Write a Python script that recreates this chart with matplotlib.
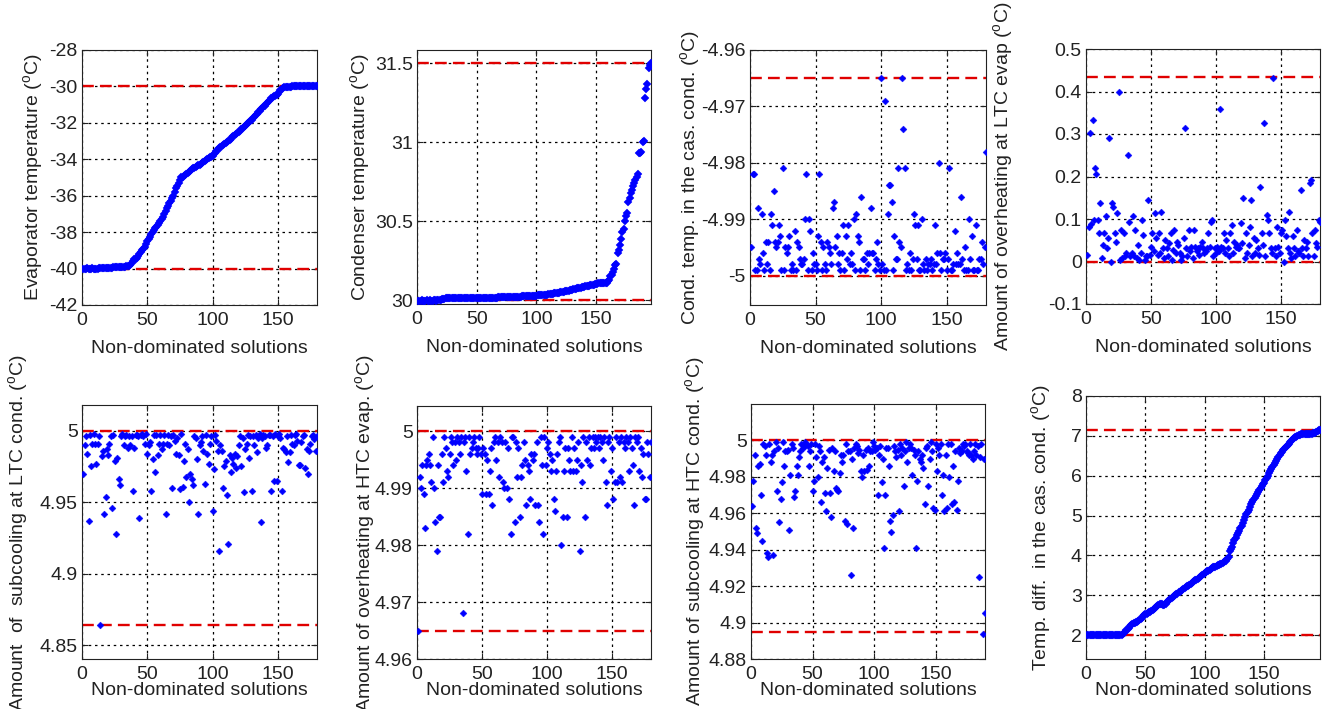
import numpy as np
import matplotlib
matplotlib.use('Agg')
import matplotlib.pyplot as plt

plt.rcParams['font.family'] = ['Liberation Sans', 'DejaVu Sans']
plt.rcParams['font.size'] = 14
plt.rcParams['mathtext.fontset'] = 'custom'
plt.rcParams['mathtext.rm'] = 'Liberation Sans'
plt.rcParams['axes.unicode_minus'] = False

# ---- data (one value per non-dominated solution) ----
evap_temp = [
    -40.0, -40.0, -40.0, -39.99, -40.0, -40.0, -40.0, -39.99, -40.0, -40.0,
    -40.0, -40.0, -39.99, -39.99, -39.98, -39.99, -39.98, -39.98, -39.97, -39.97,
    -39.97, -39.96, -39.95, -39.94, -39.93, -39.93, -39.92, -39.92, -39.91, -39.91,
    -39.9, -39.9, -39.89, -39.88, -39.87, -39.86, -39.82, -39.72, -39.6, -39.5,
    -39.45, -39.4, -39.3, -39.2, -39.1, -39.0, -38.9, -38.8, -38.65, -38.5,
    -38.38, -38.25, -38.1, -38.0, -37.9, -37.8, -37.7, -37.6, -37.5, -37.4,
    -37.28, -37.15, -37.0, -36.85, -36.7, -36.55, -36.42, -36.3, -36.15, -36.0,
    -35.8, -35.6, -35.45, -35.3, -35.15, -35.0, -34.95, -34.9, -34.85, -34.8,
    -34.74, -34.68, -34.62, -34.56, -34.5, -34.46, -34.42, -34.38, -34.34, -34.3,
    -34.25, -34.2, -34.15, -34.1, -34.05, -34.0, -33.95, -33.9, -33.85, -33.8,
    -33.72, -33.64, -33.56, -33.48, -33.4, -33.34, -33.28, -33.22, -33.16, -33.1,
    -33.04, -32.98, -32.92, -32.86, -32.8, -32.74, -32.68, -32.62, -32.56, -32.5,
    -32.43, -32.36, -32.29, -32.22, -32.15, -32.09, -32.03, -31.97, -31.91, -31.85,
    -31.76, -31.67, -31.58, -31.49, -31.4, -31.33, -31.26, -31.19, -31.12, -31.05,
    -30.97, -30.89, -30.81, -30.73, -30.65, -30.6, -30.55, -30.5, -30.45, -30.4,
    -30.3, -30.2, -30.15, -30.08, -30.05, -30.03, -30.02, -30.02, -30.01, -30.01,
    -30.0, -30.0, -30.0, -29.99, -30.0, -30.0, -30.0, -29.99, -29.99, -30.0,
    -30.0, -30.0, -29.99, -29.99, -30.0, -30.0, -30.0, -30.0, -30.0, -30.0]

cond_temp = [
    29.996, 29.997, 29.997, 29.998, 29.997, 29.996, 29.997, 29.998, 29.997, 29.997,
    29.998, 29.997, 29.997, 29.998, 29.998, 29.997, 29.998, 29.998, 29.999, 29.999,
    30.008, 30.009, 30.009, 30.01, 30.01, 30.01, 30.01, 30.011, 30.01, 30.011,
    30.011, 30.01, 30.011, 30.011, 30.011, 30.012, 30.011, 30.012, 30.011, 30.012,
    30.012, 30.012, 30.012, 30.012, 30.012, 30.013, 30.012, 30.013, 30.013, 30.013,
    30.013, 30.013, 30.013, 30.013, 30.014, 30.015, 30.015, 30.015, 30.015, 30.015,
    30.015, 30.016, 30.016, 30.016, 30.016, 30.016, 30.016, 30.017, 30.017, 30.017,
    30.017, 30.017, 30.018, 30.018, 30.018, 30.018, 30.018, 30.018, 30.019, 30.019,
    30.019, 30.019, 30.02, 30.02, 30.021, 30.022, 30.022, 30.023, 30.023, 30.024,
    30.024, 30.025, 30.025, 30.026, 30.026, 30.026, 30.027, 30.027, 30.028, 30.028,
    30.03, 30.031, 30.031, 30.032, 30.033, 30.033, 30.034, 30.035, 30.035, 30.036,
    30.038, 30.039, 30.04, 30.041, 30.042, 30.043, 30.044, 30.045, 30.046, 30.048,
    30.05, 30.052, 30.053, 30.055, 30.056, 30.058, 30.06, 30.061, 30.063, 30.065,
    30.068, 30.07, 30.072, 30.074, 30.076, 30.078, 30.079, 30.081, 30.083, 30.085,
    30.088, 30.089, 30.091, 30.092, 30.094, 30.095, 30.096, 30.098, 30.099, 30.1,
    30.104, 30.105, 30.106, 30.106, 30.107, 30.107, 30.108, 30.109, 30.11, 30.12,
    30.13, 30.15, 30.16, 30.18, 30.2, 30.22, 30.23, 30.3, 30.32, 30.35,
    30.39, 30.43, 30.45, 30.5, 30.53, 30.55, 30.62, 30.65, 30.68, 30.7,
    30.72, 30.74, 30.76, 30.78, 30.8, 30.93, 30.93, 30.94, 31.0, 31.01,
    31.28, 31.34, 31.37, 31.47, 31.49, 31.5]

cas_cond_temp = [
    -4.995, -4.982, -4.982, -4.999, -4.999, -4.988, -4.997, -4.998, -4.989, -4.996,
    -4.999, -4.994, -4.998, -4.994, -4.999, -4.989, -4.991, -4.985, -4.994, -4.995,
    -4.994, -4.991, -4.993, -4.999, -4.981, -4.999, -4.995, -4.996, -4.995, -4.993,
    -4.999, -4.998, -4.999, -4.992, -4.999, -4.994, -4.995, -4.997, -4.998, -4.998,
    -4.997, -4.990, -4.982, -4.999, -4.990, -4.992, -4.999, -4.996, -4.998, -4.998,
    -4.999, -4.993, -4.982, -4.994, -4.999, -4.995, -4.998, -4.999, -4.994, -4.995,
    -4.996, -4.998, -4.988, -4.987, -4.995, -4.993, -4.998, -4.996, -4.999, -4.996,
    -4.991, -4.999, -4.993, -4.997, -4.991, -4.998, -4.996, -4.998, -4.990, -4.999,
    -4.989, -4.993, -4.994, -4.999, -4.986, -4.997, -4.997, -4.999, -4.996, -4.998,
    -4.996, -4.988, -4.996, -4.996, -4.999, -4.997, -4.994, -4.998, -4.999, -4.965,
    -4.998, -4.999, -4.969, -4.999, -4.989, -4.984, -4.984, -4.987, -4.999, -4.993,
    -4.997, -4.997, -4.981, -4.994, -4.995, -4.965, -4.974, -4.981, -4.999, -4.998,
    -4.999, -4.996, -4.999, -4.997, -4.989, -4.991, -4.997, -4.991, -4.999, -4.999,
    -4.990, -4.998, -4.999, -4.997, -4.999, -4.998, -4.998, -4.997, -4.999, -4.998,
    -4.991, -4.998, -4.996, -4.980, -4.996, -4.999, -4.997, -4.997, -4.996, -4.999,
    -4.997, -4.981, -4.999, -4.999, -4.998, -4.992, -4.998, -4.996, -4.998, -4.998,
    -4.986, -4.997, -4.999, -4.995, -4.999, -4.999, -4.990, -4.997, -4.993, -4.999,
    -4.999, -4.991, -4.999, -4.999, -4.997, -4.997, -4.994, -4.998, -4.995, -4.978]

ltc_evap_oh = [
    0.016, 0.082, 0.303, 0.089, 0.334, 0.098, 0.219, 0.207, 0.098, 0.067,
    0.137, 0.008, 0.039, 0.067, 0.106, 0.031, 0.055, 0.290, 0.000, 0.137,
    0.129, 0.067, 0.047, 0.114, 0.400, 0.004, 0.074, 0.008, 0.067, 0.012,
    0.020, 0.250, 0.094, 0.012, 0.020, 0.106, 0.012, 0.074, 0.008, 0.039,
    0.004, 0.020, 0.098, 0.063, 0.004, 0.012, 0.012, 0.145, 0.016, 0.035,
    0.067, 0.024, 0.114, 0.055, 0.016, 0.067, 0.020, 0.117, 0.031, 0.008,
    0.051, 0.031, 0.012, 0.043, 0.067, 0.004, 0.027, 0.074, 0.020, 0.047,
    0.039, 0.020, 0.004, 0.012, 0.055, 0.315, 0.031, 0.012, 0.074, 0.024,
    0.035, 0.008, 0.074, 0.035, 0.024, 0.031, 0.016, 0.035, 0.047, 0.031,
    0.020, 0.024, 0.031, 0.067, 0.035, 0.094, 0.098, 0.012, 0.031, 0.020,
    0.035, 0.024, 0.360, 0.035, 0.031, 0.067, 0.020, 0.051, 0.031, 0.012,
    0.067, 0.086, 0.020, 0.047, 0.035, 0.039, 0.031, 0.031, 0.090, 0.043,
    0.149, 0.008, 0.067, 0.020, 0.039, 0.082, 0.145, 0.012, 0.055, 0.020,
    0.051, 0.031, 0.016, 0.176, 0.067, 0.040, 0.325, 0.012, 0.110, 0.098,
    0.067, 0.031, 0.020, 0.431, 0.031, 0.012, 0.082, 0.035, 0.020, 0.067,
    0.074, 0.000, 0.098, 0.059, 0.031, 0.117, 0.020, 0.008, 0.059, 0.031,
    0.012, 0.074, 0.024, 0.020, 0.168, 0.031, 0.012, 0.051, 0.031, 0.047,
    0.012, 0.184, 0.192, 0.067, 0.012, 0.074, 0.043, 0.035, 0.098, 0.094]

ltc_cond_sc = [
    4.970, 4.990, 4.996, 4.984, 4.937, 4.997, 4.975, 4.991, 4.998, 4.991,
    4.977, 4.991, 4.996, 4.864, 4.982, 4.986, 4.942, 4.954, 4.987, 4.983,
    4.991, 4.996, 4.946, 4.997, 4.979, 4.928, 4.981, 4.966, 4.962, 4.996,
    4.998, 4.990, 4.996, 4.997, 4.988, 4.996, 4.990, 4.996, 4.958, 4.988,
    4.997, 4.997, 4.996, 4.939, 4.997, 4.998, 4.996, 4.991, 4.998, 4.984,
    4.990, 4.992, 4.958, 4.980, 4.997, 4.971, 4.997, 4.983, 4.991, 4.997,
    4.987, 4.991, 4.997, 4.942, 4.991, 4.997, 4.990, 4.996, 4.960, 4.997,
    4.993, 4.984, 4.995, 4.983, 4.959, 4.998, 4.961, 4.979, 4.991, 4.968,
    4.987, 4.950, 4.970, 4.966, 4.962, 4.996, 4.995, 4.980, 4.942, 4.990,
    4.992, 4.996, 4.986, 4.963, 4.997, 4.984, 4.977, 4.991, 4.996, 4.944,
    4.973, 4.997, 4.993, 4.986, 4.916, 4.990, 4.986, 4.960, 4.975, 4.979,
    4.955, 4.921, 4.983, 4.971, 4.981, 4.977, 4.984, 4.974, 4.982, 4.990,
    4.996, 4.975, 4.995, 4.957, 4.987, 4.991, 4.997, 4.981, 4.996, 4.958,
    4.996, 4.990, 4.997, 4.985, 4.995, 4.998, 4.936, 4.995, 4.997, 4.996,
    4.988, 4.990, 4.997, 4.997, 4.958, 4.996, 4.965, 4.998, 4.965, 4.996,
    4.998, 4.995, 4.958, 4.988, 4.987, 4.985, 4.996, 4.978, 4.985, 4.997,
    4.991, 4.990, 4.997, 4.998, 4.993, 4.976, 4.976, 4.992, 4.996, 4.997,
    4.974, 4.987, 4.970, 4.986, 4.991, 4.996, 4.997, 4.994, 4.986, 4.996]

htc_evap_oh = [
    4.965, 4.992, 4.990, 4.994, 4.989, 4.983, 4.994, 4.995, 4.996, 4.994,
    4.991, 4.999, 4.990, 4.984, 4.979, 4.994, 4.985, 4.985, 4.996, 4.991,
    4.999, 4.997, 4.993, 4.992, 4.996, 4.999, 4.998, 4.994, 4.998, 4.995,
    4.999, 4.998, 4.996, 4.999, 4.968, 4.998, 4.999, 4.993, 4.982, 4.999,
    4.996, 4.997, 4.998, 4.999, 4.997, 4.996, 4.997, 4.999, 4.996, 4.989,
    4.997, 4.996, 4.989, 4.995, 4.989, 4.993, 4.997, 4.987, 4.998, 4.999,
    4.995, 4.998, 4.992, 4.999, 4.998, 4.991, 4.990, 4.998, 4.990, 4.997,
    4.988, 4.982, 4.999, 4.999, 4.984, 4.998, 4.992, 4.997, 4.985, 4.992,
    4.994, 4.998, 4.995, 4.987, 4.994, 4.993, 4.988, 4.996, 4.995, 4.996,
    4.987, 4.998, 4.987, 4.984, 4.999, 4.994, 4.982, 4.999, 4.994, 4.997,
    4.998, 4.996, 4.993, 4.995, 4.988, 4.986, 4.993, 4.996, 4.998, 4.999,
    4.980, 4.985, 4.993, 4.997, 4.985, 4.997, 4.995, 4.993, 4.999, 4.993,
    4.997, 4.993, 4.995, 4.998, 4.979, 4.994, 4.991, 4.999, 4.985, 4.998,
    4.995, 4.999, 4.994, 4.997, 4.999, 4.997, 4.999, 4.998, 4.999, 4.997,
    4.999, 4.998, 4.995, 4.999, 4.991, 4.987, 4.998, 4.999, 4.993, 4.997,
    4.988, 4.991, 4.999, 4.991, 4.998, 4.992, 4.999, 4.991, 4.998, 4.997,
    4.999, 4.998, 4.993, 4.999, 4.997, 4.994, 4.987, 4.999, 4.998, 4.999,
    4.993, 4.997, 4.992, 4.996, 4.988, 4.988, 4.998, 4.996, 4.992, 4.998]

htc_cond_sc = [
    4.964, 4.978, 4.992, 4.952, 4.949, 4.986, 4.987, 4.970, 4.945, 4.998, 4.997,
    4.992, 4.938, 4.936, 4.998, 4.988, 4.992, 4.937, 4.994, 4.999, 4.972, 4.996,
    4.955, 4.968, 4.977, 4.999, 4.986, 4.994, 4.994, 4.995, 4.951, 4.981, 4.998,
    4.996, 4.969, 4.972, 4.986, 4.981, 4.991, 4.994, 4.998, 4.996, 4.997, 4.999,
    4.998, 4.997, 4.986, 4.994, 4.998, 4.972, 4.978, 4.998, 4.991, 4.980, 4.997,
    4.994, 4.966, 4.988, 4.991, 4.971, 4.961, 4.985, 4.995, 4.971, 4.958, 4.996,
    4.983, 4.994, 4.974, 4.973, 4.972, 4.982, 4.992, 4.988, 4.992, 4.956, 4.998,
    4.954, 4.994, 4.994, 4.926, 4.990, 4.952, 4.996, 4.998, 4.997, 4.993, 4.995,
    4.983, 4.980, 4.992, 4.983, 4.995, 4.984, 4.996, 4.986, 4.994, 4.994, 4.999,
    4.997, 4.995, 4.996, 4.970, 4.992, 4.997, 4.977, 4.990, 4.941, 4.970, 4.996,
    4.996, 4.986, 4.956, 4.950, 4.959, 4.997, 4.994, 4.991, 4.995, 4.961, 4.998,
    4.992, 4.996, 4.975, 4.994, 4.999, 4.988, 4.996, 4.998, 4.996, 4.981, 4.995,
    4.992, 4.941, 4.978, 4.994, 4.990, 4.988, 4.992, 4.985, 4.965, 4.996, 4.997,
    4.975, 4.990, 4.999, 4.994, 4.963, 4.962, 4.998, 4.983, 4.996, 4.992, 4.998,
    4.970, 4.981, 4.961, 4.992, 4.963, 4.998, 4.980, 4.998, 4.965, 4.986,
    4.966, 4.994, 4.962, 4.978, 4.996, 4.993, 4.994, 4.998, 4.997, 4.998,
    4.994, 4.993, 4.992, 4.998, 4.992, 4.990,
    4.994, 4.998, 4.992, 4.997, 4.925, 4.991, 4.998, 4.894, 4.990, 4.905]

cas_temp_diff = [
    2.0, 2.0, 1.99, 2.0, 2.0, 2.0, 1.99, 2.0, 2.0, 2.0,
    2.0, 2.0, 1.99, 2.0, 2.0, 2.0, 2.0, 2.0, 2.0, 2.0,
    2.0, 2.0, 2.0, 2.01, 2.01, 2.01, 2.01, 2.01, 2.01, 2.01,
    2.02, 2.04, 2.08, 2.12, 2.16, 2.19, 2.22, 2.25, 2.28, 2.3,
    2.31, 2.32, 2.34, 2.36, 2.39, 2.41, 2.44, 2.47, 2.5, 2.52,
    2.54, 2.55, 2.57, 2.59, 2.6, 2.63, 2.65, 2.68, 2.7, 2.73,
    2.75, 2.77, 2.78, 2.77, 2.76, 2.76, 2.79, 2.82, 2.85, 2.88,
    2.91, 2.93, 2.96, 2.98, 3.0, 3.02, 3.04, 3.07, 3.09, 3.11,
    3.13, 3.15, 3.18, 3.2, 3.22, 3.24, 3.26, 3.28, 3.31, 3.33,
    3.35, 3.37, 3.39, 3.41, 3.43, 3.46, 3.48, 3.51, 3.53, 3.56,
    3.58, 3.6, 3.62, 3.64, 3.67, 3.68, 3.7, 3.71, 3.72, 3.74,
    3.75, 3.76, 3.78, 3.79, 3.81, 3.83, 3.85, 3.87, 3.91, 3.97,
    4.1, 4.16, 4.22, 4.3, 4.38, 4.44, 4.5, 4.56, 4.62, 4.68,
    4.75, 4.82, 4.89, 4.96, 5.03, 5.09, 5.15, 5.21, 5.28, 5.34,
    5.39, 5.44, 5.5, 5.55, 5.6, 5.64, 5.69, 5.73, 5.78, 5.82,
    5.88, 5.94, 6.0, 6.06, 6.12, 6.17, 6.22, 6.28, 6.33, 6.38,
    6.42, 6.47, 6.51, 6.56, 6.6, 6.64, 6.67, 6.71, 6.74, 6.77,
    6.8, 6.84, 6.87, 6.91, 6.94, 6.96, 6.98, 7.0, 7.02, 7.03,
    7.04, 7.04, 7.05, 7.05, 7.05, 7.05, 7.05, 7.05, 7.05, 7.05,
    7.06, 7.07, 7.08, 7.1, 7.12, 7.14, 7.15]

# bounds (red dashed lines)
evap_bounds = [-30, -40]
cond_bounds = [30, 31.5]
cas_cond_bounds = [-4.965, -5.0]
ltc_evap_bounds = [0.433, 0.0]
ltc_cond_bounds = [5.0, 4.864]
htc_evap_bounds = [5.0, 4.965]
htc_cond_bounds = [5.0, 4.895]
diff_bounds = [7.15, 2.0]

xticks = [0, 50, 100, 150]

panels = [
    # values, bounds, ylabel, xmax, ylim, yticks, ytick labels,
    # rect in px (left, top, width, height), ylabel centre x in px, marker size, xlabel pad
    (evap_temp, evap_bounds, r'Evaporator temperature ($^{\mathrm{o}}$C)', 180, (-42, -28),
     [-42, -40, -38, -36, -34, -32, -30, -28], ['-42', '-40', '-38', '-36', '-34', '-32', '-30', '-28'],
     (82, 50, 235, 255), 30, 4.2, 8),
    (cond_temp, cond_bounds, r'Condenser temperature ($^{\mathrm{o}}$C)', 196, (29.975, 31.585),
     [30, 30.5, 31, 31.5], ['30', '30.5', '31', '31.5'],
     (417, 50, 234, 254), 357, 3.8, 8),
    (cas_cond_temp, cas_cond_bounds, r'Cond. temp. in the cas. cond. ($^{\mathrm{o}}$C)', 180, (-5.0052, -4.96),
     [-5, -4.99, -4.98, -4.97, -4.96], ['-5', '-4.99', '-4.98', '-4.97', '-4.96'],
     (750, 50, 236, 255), 687, 3.5, 8),
    (ltc_evap_oh, ltc_evap_bounds, r'Amount of overheating at LTC evap ($^{\mathrm{o}}$C)', 180, (-0.1, 0.5),
     [-0.1, 0, 0.1, 0.2, 0.3, 0.4, 0.5], ['-0.1', '0', '0.1', '0.2', '0.3', '0.4', '0.5'],
     (1086, 49, 234, 255), 1000, 3.5, 8),
    (ltc_cond_sc, ltc_cond_bounds, r'Amount  of  subcooling at LTC cond. ($^{\mathrm{o}}$C)', 180, (4.8404, 5.018),
     [4.85, 4.9, 4.95, 5], ['4.85', '4.9', '4.95', '5'],
     (82, 405, 235, 254), 15, 3.5, -1),
    (htc_evap_oh, htc_evap_bounds, r'Amount of overheating at HTC evap. ($^{\mathrm{o}}$C)', 180, (4.96, 5.0044),
     [4.96, 4.97, 4.98, 4.99, 5], ['4.96', '4.97', '4.98', '4.99', '5'],
     (417, 406, 234, 253), 362, 3.5, -1),
    (htc_cond_sc, htc_cond_bounds, r'Amount of subcooling at HTC cond. ($^{\mathrm{o}}$C)', 190, (4.88, 5.02),
     [4.88, 4.9, 4.92, 4.94, 4.96, 4.98, 5], ['4.88', '4.9', '4.92', '4.94', '4.96', '4.98', '5'],
     (751, 404, 234, 255), 692, 3.5, -1),
    (cas_temp_diff, diff_bounds, r'Temp. diff.  in the cas. cond. ($^{\mathrm{o}}$C)', 197, (1.4, 8),
     [2, 3, 4, 5, 6, 7, 8], ['2', '3', '4', '5', '6', '7', '8'],
     (1086, 396, 234, 263), 1038, 4.2, -1),
]

W, H = 1325, 709
fig = plt.figure(figsize=(W / 100, H / 100), dpi=100)

for vals, bounds, ylab, xmax, ylim, yt, ytl, rect, lab_x, ms, xpad in panels:
    l, t, w, h = rect
    ax = fig.add_axes([l / W, 1 - (t + h) / H, w / W, h / H])
    x = np.arange(1, len(vals) + 1)
    for b in bounds:
        ax.axhline(b, color='#e00000', lw=1.7, ls=(0, (5, 2.6)), zorder=2)
    ax.plot(x, vals, ls='none', marker='D', ms=ms, mfc='#0000ff', mec='#0000ff',
            mew=0.3, zorder=3)
    ax.set_xlim(0, xmax)
    ax.set_ylim(*ylim)
    ax.set_xticks(xticks)
    ax.set_xticklabels([str(v) for v in xticks])
    ax.set_yticks(yt)
    ax.set_yticklabels(ytl)
    ax.grid(True, color='black', ls=(0, (2, 3)), lw=0.9)
    ax.set_axisbelow(True)
    ax.tick_params(direction='in', length=4, width=0.8, labelsize=14, pad=3,
                   top=True, right=True, colors='#222222')
    ax.tick_params(axis='x', pad=5)
    for s in ax.spines.values():
        s.set_linewidth(0.8)
        s.set_color('#222222')
    ax.set_xlabel('Non-dominated solutions', fontsize=14, labelpad=xpad, color='#222222')
    ax.set_ylabel(ylab, fontsize=14, color='#222222')
    # anchor is the right edge of the rotated label, ~16 px right of its centre
    ax.yaxis.set_label_coords((lab_x + 16 - l) / w, 0.5)

fig.savefig('out.png', dpi=100, facecolor='white')
